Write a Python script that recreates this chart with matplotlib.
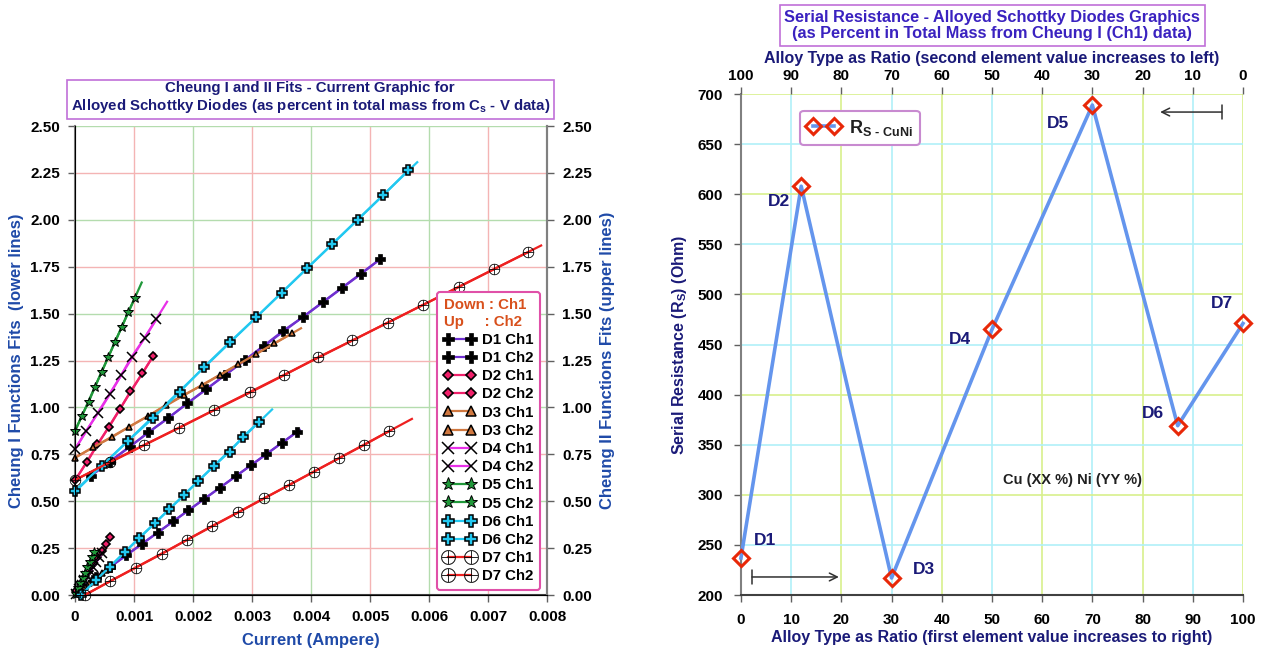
import numpy as np
import matplotlib.pyplot as plt

plt.rcParams['font.family'] = ['Liberation Sans', 'DejaVu Sans']
plt.rcParams['font.weight'] = 'bold'
plt.rcParams['axes.labelweight'] = 'bold'
plt.rcParams['mathtext.fontset'] = 'custom'
plt.rcParams['mathtext.rm'] = 'Liberation Sans:bold'
plt.rcParams['mathtext.sf'] = 'Liberation Sans:bold'
plt.rcParams['mathtext.it'] = 'Liberation Sans:bold'

# ---- left chart data (current in A, Cheung function values) ----
d1_ch1_x = [0.00008, 0.00035, 0.0006, 0.00087, 0.00114, 0.0014, 0.00166, 0.00192, 0.00219, 0.00245, 0.00272, 0.00298, 0.00324, 0.0035, 0.00376]
d1_ch1_y = [0.033, 0.094, 0.151, 0.212, 0.274, 0.333, 0.392, 0.451, 0.512, 0.571, 0.632, 0.691, 0.750, 0.810, 0.869]
d1_ch2_x = [0.00027, 0.00059, 0.00093, 0.00124, 0.00158, 0.0019, 0.00222, 0.00254, 0.00288, 0.0032, 0.00352, 0.00387, 0.0042, 0.00452, 0.00485, 0.00517]
d1_ch2_y = [0.635, 0.711, 0.79, 0.867, 0.942, 1.022, 1.096, 1.173, 1.253, 1.329, 1.407, 1.483, 1.56, 1.635, 1.712, 1.79]

d2_ch1_x = [0.00002, 0.0001, 0.00017, 0.00024, 0.00031, 0.00038, 0.00045, 0.00052, 0.0006]
d2_ch1_y = [0.02, 0.06, 0.095, 0.13, 0.165, 0.2, 0.235, 0.27, 0.31]
d2_ch2_x = [0.0, 0.0002, 0.00038, 0.00058, 0.00076, 0.00094, 0.00114, 0.00133]
d2_ch2_y = [0.613, 0.707, 0.803, 0.897, 0.99, 1.086, 1.181, 1.276]

d3_ch1_x = [0.00003, 0.0001, 0.00017, 0.00024, 0.00031, 0.00038, 0.00045, 0.00052]
d3_ch1_y = [0.01, 0.027, 0.045, 0.062, 0.08, 0.097, 0.115, 0.132]
d3_ch2_x = [0.0, 0.0003, 0.00062, 0.00092, 0.00124, 0.00154, 0.00184, 0.00216, 0.00246, 0.00277, 0.00307, 0.00338, 0.00368]
d3_ch2_y = [0.732, 0.787, 0.84, 0.897, 0.954, 1.013, 1.066, 1.119, 1.173, 1.23, 1.285, 1.342, 1.395]

d4_ch1_x = [0.00001, 0.00006, 0.00011, 0.00016, 0.00021, 0.00026, 0.00031, 0.00036, 0.00041, 0.00046]
d4_ch1_y = [0.005, 0.03, 0.054, 0.078, 0.102, 0.127, 0.151, 0.175, 0.2, 0.224]
d4_ch2_x = [0.0, 0.000186, 0.000395, 0.000593, 0.00078, 0.00096, 0.00118, 0.00138]
d4_ch2_y = [0.777, 0.874, 0.972, 1.071, 1.171, 1.27, 1.37, 1.47]

d5_ch1_x = [0.00001, 0.00005, 0.00009, 0.00013, 0.00017, 0.00021, 0.00025, 0.00029, 0.00033]
d5_ch1_y = [0.007, 0.035, 0.063, 0.091, 0.119, 0.147, 0.175, 0.203, 0.231]
d5_ch2_x = [0.0, 0.000113, 0.000232, 0.000339, 0.000452, 0.000565, 0.000673, 0.000792, 0.000904, 0.001017]
d5_ch2_y = [0.876, 0.954, 1.03, 1.11, 1.19, 1.269, 1.347, 1.429, 1.509, 1.585]

d6_ch1_x = [0.0001, 0.00035, 0.00059, 0.00085, 0.00109, 0.00136, 0.0016, 0.00185, 0.00209, 0.00236, 0.00262, 0.00285, 0.00312]
d6_ch1_y = [0.0, 0.078, 0.151, 0.231, 0.306, 0.385, 0.458, 0.533, 0.608, 0.689, 0.764, 0.844, 0.924]
d6_ch2_x = [0.0, 0.00045, 0.0009, 0.00133, 0.00178, 0.00219, 0.00263, 0.00307, 0.0035, 0.00393, 0.00436, 0.00479, 0.00522, 0.00565]
d6_ch2_y = [0.556, 0.688, 0.822, 0.945, 1.084, 1.217, 1.35, 1.48, 1.611, 1.741, 1.87, 2.0, 2.13, 2.265]

d7_ch1_x = [0.00017, 0.0006, 0.00103, 0.00147, 0.00189, 0.00233, 0.00276, 0.0032, 0.00362, 0.00405, 0.00448, 0.0049, 0.00533]
d7_ch1_y = [0.0, 0.075, 0.146, 0.219, 0.293, 0.369, 0.44, 0.515, 0.585, 0.658, 0.73, 0.8, 0.875]
d7_ch2_x = [0.0, 0.0006, 0.00117, 0.00177, 0.00236, 0.00297, 0.00354, 0.00412, 0.0047, 0.0053, 0.0059, 0.0065, 0.0071, 0.00768]
d7_ch2_y = [0.613, 0.71, 0.8, 0.892, 0.986, 1.08, 1.171, 1.267, 1.357, 1.452, 1.547, 1.642, 1.737, 1.828]

# end of the drawn fit line for each series (Ch1, Ch2)
fit_end = [(0.00381, 0.0052), (0.00061, 0.00135), (0.00052, 0.00383), (0.00046, 0.00156),
           (0.00033, 0.00113), (0.00334, 0.0058), (0.00571, 0.0079)]

x_ticks = [0, 0.001, 0.002, 0.003, 0.004, 0.005, 0.006, 0.007, 0.008]
x_ticklabels = ['0', '0.001', '0.002', '0.003', '0.004', '0.005', '0.006', '0.007', '0.008']
y_ticks = [0, 0.25, 0.5, 0.75, 1.0, 1.25, 1.5, 1.75, 2.0, 2.25, 2.5]

# ---- right chart data ----
diodes = ['D1', 'D2', 'D3', 'D4', 'D5', 'D6', 'D7']
alloy = [0, 12, 30, 50, 70, 87, 100]
rs = [237, 608, 217, 465, 689, 369, 471]

series = [
    (d1_ch1_x, d1_ch1_y, d1_ch2_x, d1_ch2_y),
    (d2_ch1_x, d2_ch1_y, d2_ch2_x, d2_ch2_y),
    (d3_ch1_x, d3_ch1_y, d3_ch2_x, d3_ch2_y),
    (d4_ch1_x, d4_ch1_y, d4_ch2_x, d4_ch2_y),
    (d5_ch1_x, d5_ch1_y, d5_ch2_x, d5_ch2_y),
    (d6_ch1_x, d6_ch1_y, d6_ch2_x, d6_ch2_y),
    (d7_ch1_x, d7_ch1_y, d7_ch2_x, d7_ch2_y),
]
colors = ['#7030d0', '#f0206a', '#d07840', '#e830e8', '#20983a', '#22c8f0', '#ee2020']
styles = [
    dict(marker='P', ms=6.5, mfc='black', mec='black', mew=0.5),
    dict(marker='D', ms=4.2, mfc='#f0206a', mec='black', mew=1.2),
    dict(marker='^', ms=5, mfc='#d07840', mec='black', mew=1.1),
    dict(marker='x', ms=6.5, mec='black', mew=1.1),
    dict(marker='*', ms=7.5, mfc='#20983a', mec='black', mew=0.7),
    dict(marker='P', ms=6.5, mfc='#22c8f0', mec='black', mew=1.1),
    dict(marker=r'$\oplus$', ms=8, mfc='black', mec='black', mew=0.2),
]

navy = '#1a1a78'
blue_lbl = '#1f4aa8'


def bold_ticks(a):
    for t in a.get_xticklabels() + a.get_yticklabels():
        t.set_fontweight('bold')


fig = plt.figure(figsize=(12.61, 6.52), dpi=100)

# ================= left chart =================
ax = fig.add_axes([0.0595, 0.0874, 0.3743, 0.7193])
ax.set_xlim(0, 0.008)
ax.set_ylim(0, 2.5)

for i, v in enumerate(x_ticks[1:]):
    ax.axvline(v, color='#f4b4b4' if i % 2 == 0 else '#b4dcae', lw=1, zorder=0)
for i, v in enumerate(y_ticks[1:]):
    ax.axhline(v, color='#f4b4b4' if i % 2 == 0 else '#b4dcae', lw=1, zorder=0)

for k, (x1, y1, x2, y2) in enumerate(series):
    for j, (xs, ys) in enumerate([(x1, y1), (x2, y2)]):
        p = np.polyfit(xs, ys, 1)
        xf = np.array([xs[0], fit_end[k][j]])
        ax.plot(xf, np.polyval(p, xf), color=colors[k], lw=1.6, zorder=2, clip_on=False)
        ax.plot(xs, ys, color=colors[k], lw=1.6, zorder=3, clip_on=False,
                label=f'{diodes[k]} Ch{j + 1}', **styles[k])

ax.set_xticks(x_ticks)
ax.set_xticklabels(x_ticklabels)
ax.set_yticks(y_ticks)
ax.set_yticklabels([f'{v:.2f}' for v in y_ticks])
ax.tick_params(labelsize=11, direction='out', length=5, width=1, color='#606060', pad=6)
bold_ticks(ax)
ax.spines['top'].set_visible(False)
ax.spines['left'].set_color('#808080')
ax.spines['left'].set_linewidth(1.5)
ax.spines['right'].set_color('#808080')
ax.spines['right'].set_linewidth(1.5)
ax.spines['bottom'].set_color('#404040')
ax.spines['bottom'].set_linewidth(1.5)
ax.set_xlabel('Current (Ampere)', color=blue_lbl, fontsize=12, labelpad=6)
ax.set_ylabel('Cheung I Functions Fits  (lower lines)', color=blue_lbl, fontsize=12, labelpad=4)

axr = ax.twinx()
axr.set_ylim(0, 2.5)
axr.set_yticks(y_ticks)
axr.set_yticklabels([f'{v:.2f}' for v in y_ticks])
axr.tick_params(labelsize=11, direction='out', length=5, width=1, color='#606060', pad=6)
bold_ticks(axr)
axr.spines['top'].set_visible(False)
axr.spines['right'].set_color('#808080')
axr.spines['right'].set_linewidth(1.5)
axr.set_ylabel('Cheung II Functions Fits (upper lines)', color=blue_lbl, fontsize=12, labelpad=6)

leg = ax.legend(loc='lower right', bbox_to_anchor=(0.992, 0.004), fontsize=10.8, numpoints=2,
                markerscale=1.3, handlelength=2.1, labelspacing=0.28, borderpad=0.45,
                handletextpad=0.45, borderaxespad=0.2, fancybox=True, framealpha=1,
                edgecolor='#e050a8', title='Down : Ch1\nUp     : Ch2', title_fontsize=10.8,
                alignment='left')
leg.get_frame().set_linewidth(1.5)
leg.get_title().set_color('#d8501c')
leg.get_title().set_fontweight('bold')
leg.set_zorder(10)

fig.text(0.246, 0.849, 'Cheung I and II Fits - Current Graphic for\n'
         'Alloyed Schottky Diodes (as percent in total mass from C$_\\mathrm{s}$ - V data)',
         ha='center', va='center', fontsize=10.8, color=navy, linespacing=1.15,
         bbox=dict(boxstyle='square,pad=0.25', fc='white', ec='#c070d8', lw=1.2))

# ================= right chart =================
bx = fig.add_axes([0.5876, 0.0874, 0.3981, 0.7684])
bx.set_xlim(0, 100)
bx.set_ylim(200, 700)
for v in range(10, 101, 10):
    bx.axvline(v, color='#b0f0f8' if (v // 10) % 2 == 1 else '#d8f08c', lw=1.2, zorder=0)
for v in range(250, 701, 50):
    bx.axhline(v, color='#b0f0f8' if (v // 50) % 2 == 1 else '#d8f08c', lw=1.2, zorder=0)

bx.plot(alloy, rs, color='#6495ed', lw=2.6, marker='D', ms=8.5, mfc='none', mec='#e82808',
        mew=2.2, clip_on=False, zorder=3, label=r'R$_{\mathrm{S\ \text{-}\ CuNi}}$')

lbl_off = [(4.8, 17), (-4.4, -15), (6.5, 8), (-6.4, -10), (-6.9, -18), (-5, 12), (-4.2, 20)]
for d, xv, yv, (dx, dy) in zip(diodes, alloy, rs, lbl_off):
    bx.text(xv + dx, yv + dy, d, color=navy, fontsize=12.5, fontweight='bold',
            ha='center', va='center')

bx.text(66, 315, 'Cu (XX %) Ni (YY %)', color='#202020', fontsize=10.5, fontweight='bold',
        ha='center', va='center')

arrow = dict(arrowstyle=']->, widthA=0.35, lengthA=0', color='#303030', lw=1.1, mutation_scale=14,
             shrinkA=0, shrinkB=0)
bx.annotate('', xy=(19.5, 218), xytext=(2.2, 218), arrowprops=arrow)
bx.annotate('', xy=(83.5, 682), xytext=(95.8, 682), arrowprops=arrow)

bx.set_xticks(range(0, 101, 10))
bx.set_yticks(range(200, 701, 50))
bx.tick_params(labelsize=11, direction='out', length=5, width=1, color='#606060', pad=8)
bold_ticks(bx)
bx.spines['top'].set_visible(False)
bx.spines['right'].set_visible(False)
bx.spines['left'].set_color('#808080')
bx.spines['left'].set_linewidth(1.5)
bx.spines['bottom'].set_color('#404040')
bx.spines['bottom'].set_linewidth(1.5)
bx.set_xlabel('Alloy Type as Ratio (first element value increases to right)', color=navy,
              fontsize=11.5, labelpad=2)
bx.set_ylabel('Serial Resistance (R$_\\mathrm{S}$) (Ohm)', color=navy, fontsize=11.5, labelpad=6)

tx = bx.twiny()
tx.set_xlim(100, 0)
tx.set_xticks(range(0, 101, 10))
tx.tick_params(labelsize=11, direction='out', length=5, width=1, color='#606060', pad=3)
bold_ticks(tx)
for s in ['top', 'right', 'left', 'bottom']:
    tx.spines[s].set_visible(False)
tx.set_xlabel('Alloy Type as Ratio (second element value increases to left)', color=navy,
              fontsize=11.5, labelpad=4)

lg2 = bx.legend(loc='upper left', bbox_to_anchor=(0.1, 0.985), fontsize=13, numpoints=2,
                handlelength=1.8, borderpad=0.4, handletextpad=0.5, fancybox=True,
                framealpha=1, edgecolor='#c88ad0')
lg2.get_frame().set_linewidth(1.5)
for t in lg2.get_texts():
    t.set_color('#202020')
    t.set_fontweight('bold')

fig.text(0.787, 0.961, 'Serial Resistance - Alloyed Schottky Diodes Graphics\n'
         '(as Percent in Total Mass from Cheung I (Ch1) data)',
         ha='center', va='center', fontsize=11.8, color='#3a22c0', linespacing=1.15,
         bbox=dict(boxstyle='square,pad=0.3', fc='white', ec='#c070d8', lw=1.2))

fig.savefig('out.png', dpi=100)
